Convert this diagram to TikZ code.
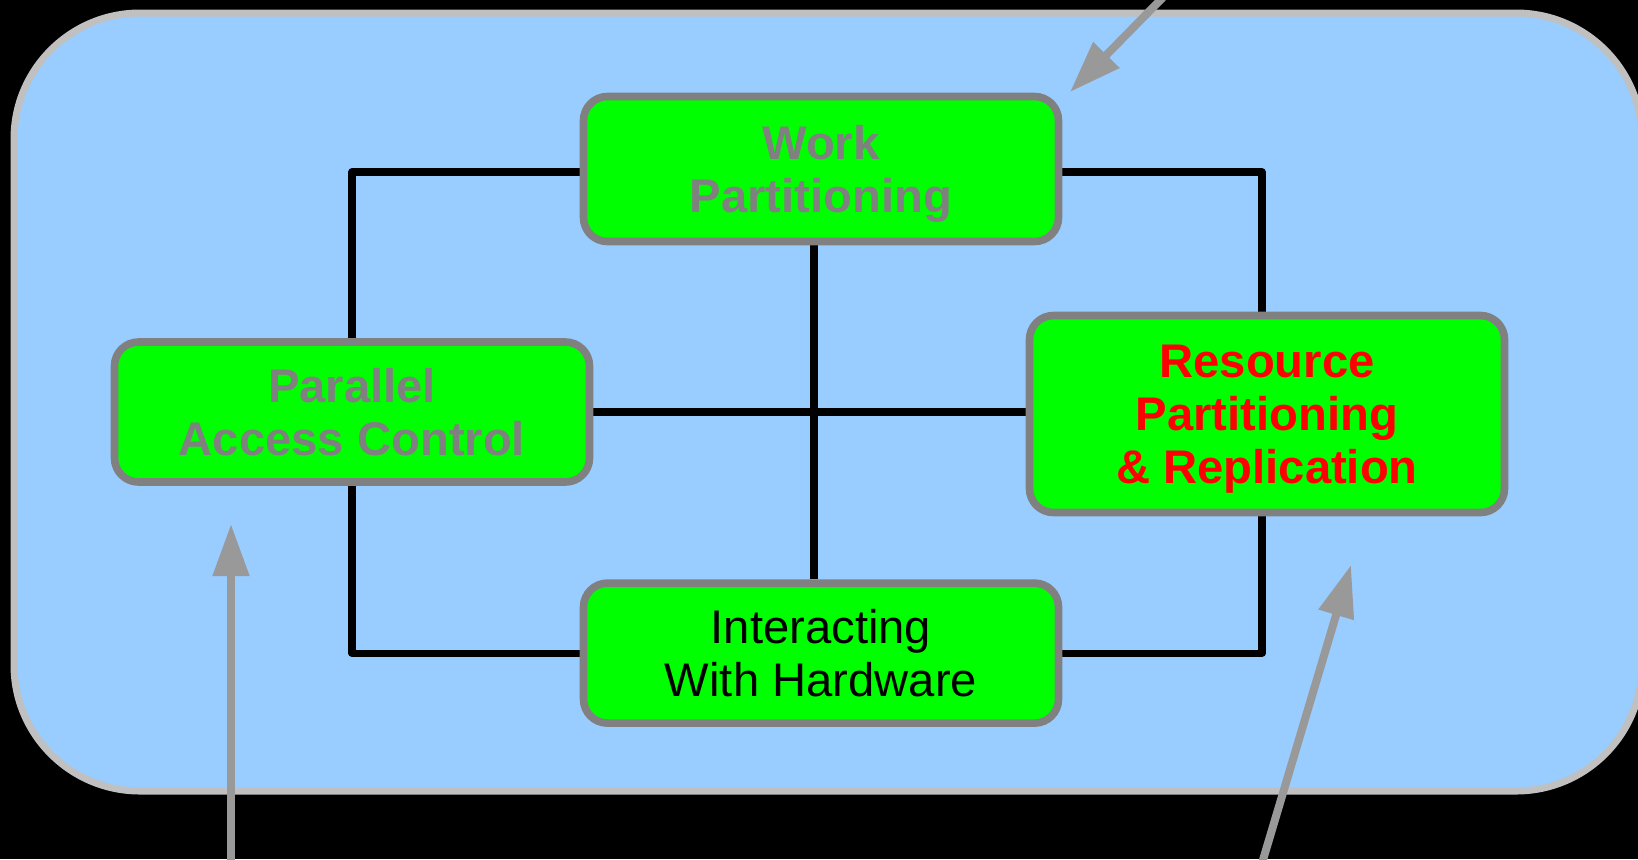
\documentclass[tikz,border=0pt]{standalone}
\usepackage{fontspec}
\setmainfont{Liberation Sans}
\usetikzlibrary{positioning}
\usetikzlibrary{calc,arrows.meta}
\usetikzlibrary{backgrounds}

\definecolor{panelblue}{HTML}{99CCFF}
\definecolor{panelrim}{HTML}{C0C0C0}
\definecolor{boxgreen}{HTML}{00FF00}
\definecolor{boxrim}{HTML}{808080}
\definecolor{pointer}{HTML}{999999}
\newcommand{\boxfont}{\fontsize{23.6pt}{26.6pt}\selectfont}

\begin{document}
\begin{tikzpicture}[x=0.5pt, y=-0.5pt,
  topic/.style={draw=boxrim, line width=3.8pt, fill=boxgreen, rounded corners=12pt, minimum width=237.5pt, minimum height=70pt, align=center, text depth=0pt, font=\boxfont},
  bold topic/.style={topic, font=\boxfont\bfseries},
  link/.style={line width=3.6pt, line join=round},
  pointer arrow/.style={draw=pointer, line width=4pt, -{Triangle[length=26pt, width=17.5pt]}}]
\useasboundingbox (0,0) rectangle (1638,859);

\node (work) [bold topic, text=boxrim, minimum height=72.5pt] at (821,169) {Work\\Partitioning};

\node (hardware) [topic, below=167pt of work] {Interacting\\With Hardware};

\node (access) [bold topic, text=boxrim] at (352,412) {Parallel\\Access Control};

\node (resource) [bold topic, text=red, minimum height=98.5pt] at (1267,414) {Resource\\Partitioning\\\& Replication};

\begin{scope}[on background layer]
\fill [black] (0,0) rectangle (1638,859);
\draw [draw=panelrim, fill=panelblue, line width=3.5pt, rounded corners=63pt] (14,13) rectangle (1642,791);

\draw [link] ([yshift=-1.5pt]work.west) -| (access.north);
\draw [link] (access.south) |- (hardware.west);
\draw [link] (hardware.east) -| ([xshift=-2.5pt]resource.south);
\draw [link] ([xshift=-2.5pt]resource.north) |- ([yshift=-1.5pt]work.east);
\draw [link] (access.east) -- (access.east -| resource.west);
\draw [link] ([xshift=-3.5pt]work.south) -- ([xshift=-3.5pt]work.south |- hardware.north);
\end{scope}

\coordinate (top tail) at (1180,-20);
\coordinate (top tip) at (1070,92);
\coordinate (left tail) at (231,880);
\coordinate (left tip) at (231,524);
\coordinate (right tail) at (1257,880);
\coordinate (right tip) at (1351,565);

\draw [pointer arrow] (top tail) -- (top tip);
\draw [pointer arrow] (left tail) -- (left tip);
\draw [pointer arrow] (right tail) -- (right tip);
\end{tikzpicture}
\end{document}
